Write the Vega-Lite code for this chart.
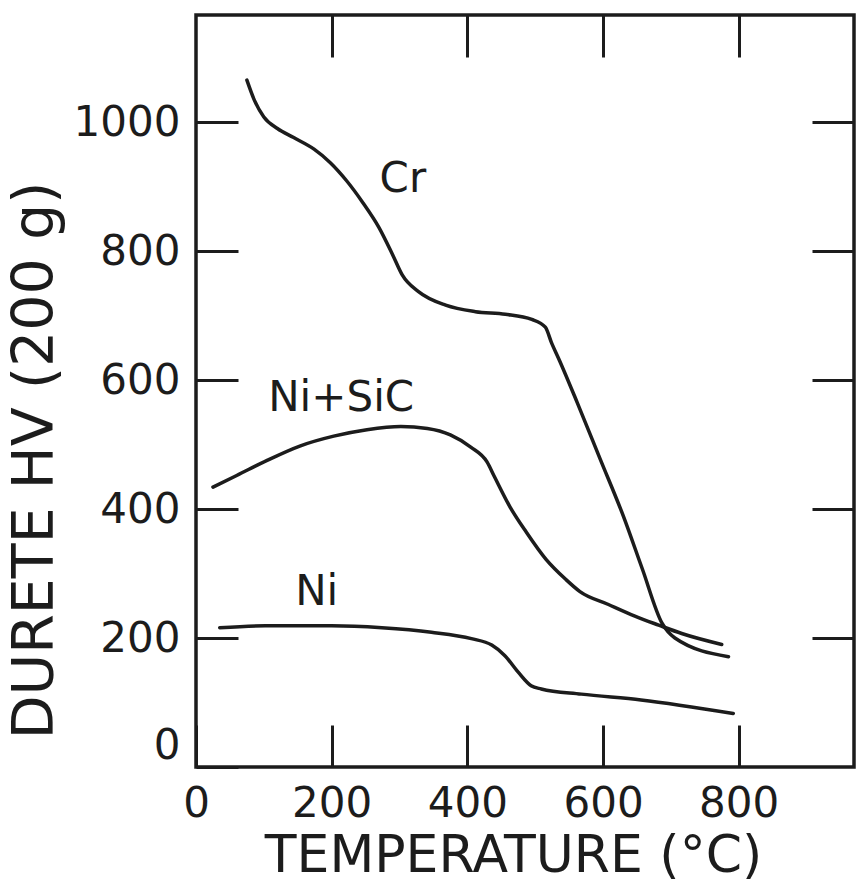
{
  "$schema": "https://vega.github.io/schema/vega-lite/v6.json",
  "autosize": {"type": "none"},
  "padding": {"left": 196, "top": 15, "right": 3, "bottom": 115},
  "width": 658,
  "height": 752,
  "background": "white",
  "datasets": {
    "curves": [
      {"series": "Cr", "t": 75, "hv": 1065},
      {"series": "Cr", "t": 86, "hv": 1034},
      {"series": "Cr", "t": 100, "hv": 1008},
      {"series": "Cr", "t": 120, "hv": 990},
      {"series": "Cr", "t": 144, "hv": 976},
      {"series": "Cr", "t": 174, "hv": 958},
      {"series": "Cr", "t": 198, "hv": 937},
      {"series": "Cr", "t": 222, "hv": 909},
      {"series": "Cr", "t": 246, "hv": 875},
      {"series": "Cr", "t": 270, "hv": 836},
      {"series": "Cr", "t": 290, "hv": 794},
      {"series": "Cr", "t": 304, "hv": 763},
      {"series": "Cr", "t": 328, "hv": 737},
      {"series": "Cr", "t": 368, "hv": 716},
      {"series": "Cr", "t": 412, "hv": 706},
      {"series": "Cr", "t": 456, "hv": 702},
      {"series": "Cr", "t": 495, "hv": 694},
      {"series": "Cr", "t": 515, "hv": 682},
      {"series": "Cr", "t": 524, "hv": 658},
      {"series": "Cr", "t": 536, "hv": 630},
      {"series": "Cr", "t": 562, "hv": 565},
      {"series": "Cr", "t": 596, "hv": 477},
      {"series": "Cr", "t": 630, "hv": 389},
      {"series": "Cr", "t": 658, "hv": 307},
      {"series": "Cr", "t": 687, "hv": 223},
      {"series": "Cr", "t": 706, "hv": 200},
      {"series": "Cr", "t": 785, "hv": 171},
      {"series": "Ni+SiC", "t": 25, "hv": 434},
      {"series": "Ni+SiC", "t": 60, "hv": 452},
      {"series": "Ni+SiC", "t": 104, "hv": 475},
      {"series": "Ni+SiC", "t": 154, "hv": 498},
      {"series": "Ni+SiC", "t": 203, "hv": 513},
      {"series": "Ni+SiC", "t": 252, "hv": 523},
      {"series": "Ni+SiC", "t": 302, "hv": 528},
      {"series": "Ni+SiC", "t": 341, "hv": 525},
      {"series": "Ni+SiC", "t": 375, "hv": 515},
      {"series": "Ni+SiC", "t": 405, "hv": 496},
      {"series": "Ni+SiC", "t": 429, "hv": 473},
      {"series": "Ni+SiC", "t": 440, "hv": 450},
      {"series": "Ni+SiC", "t": 463, "hv": 403},
      {"series": "Ni+SiC", "t": 487, "hv": 364},
      {"series": "Ni+SiC", "t": 516, "hv": 322},
      {"series": "Ni+SiC", "t": 545, "hv": 291},
      {"series": "Ni+SiC", "t": 566, "hv": 272},
      {"series": "Ni+SiC", "t": 608, "hv": 252},
      {"series": "Ni+SiC", "t": 647, "hv": 234},
      {"series": "Ni+SiC", "t": 682, "hv": 220},
      {"series": "Ni+SiC", "t": 716, "hv": 207},
      {"series": "Ni+SiC", "t": 775, "hv": 190},
      {"series": "Ni", "t": 35, "hv": 216},
      {"series": "Ni", "t": 102, "hv": 219},
      {"series": "Ni", "t": 200, "hv": 219},
      {"series": "Ni", "t": 274, "hv": 216},
      {"series": "Ni", "t": 347, "hv": 209},
      {"series": "Ni", "t": 406, "hv": 199},
      {"series": "Ni", "t": 436, "hv": 189},
      {"series": "Ni", "t": 455, "hv": 173},
      {"series": "Ni", "t": 475, "hv": 147},
      {"series": "Ni", "t": 494, "hv": 126},
      {"series": "Ni", "t": 509, "hv": 121},
      {"series": "Ni", "t": 568, "hv": 113},
      {"series": "Ni", "t": 656, "hv": 104},
      {"series": "Ni", "t": 792, "hv": 83}
    ],
    "names": [
      {"name": "Cr", "t": 305, "hv": 912},
      {"name": "Ni+SiC", "t": 214, "hv": 572},
      {"name": "Ni", "t": 178, "hv": 272}
    ]
  },
  "layer": [
    {
      "data": {"name": "curves"},
      "mark": {"type": "line", "interpolate": "monotone", "stroke": "#1c1c1c", "strokeWidth": 3.5, "strokeCap": "round"},
      "encoding": {
        "x": {
          "field": "t", "type": "quantitative",
          "scale": {"domain": [0, 970], "nice": false, "zero": false},
          "axis": {
            "orient": "bottom",
            "values": [0, 200, 400, 600, 800],
            "format": "d",
            "title": "TEMPERATURE (°C)",
            "titleX": 317, "titleY": 104,
            "titleAlign": "center", "titleBaseline": "alphabetic",
            "titleFontSize": 52,
            "labelFlush": false,
            "labelPadding": 58
          }
        },
        "y": {
          "field": "hv", "type": "quantitative",
          "scale": {"domain": [0, 1166], "nice": false, "zero": false},
          "axis": {
            "orient": "left",
            "values": [0, 200, 400, 600, 800, 1000],
            "format": "d",
            "title": "DURETE HV (200 g)",
            "titleX": -144, "titleY": 445,
            "titleAngle": -90,
            "titleAlign": "center", "titleBaseline": "alphabetic",
            "titleFontSize": 57,
            "labelFlush": true,
            "labelPadding": 58
          }
        },
        "detail": {"field": "series"}
      }
    },
    {
      "data": {"name": "names"},
      "mark": {"type": "text", "font": "DejaVu Sans", "fontSize": 42, "fill": "#1c1c1c", "align": "center", "baseline": "middle"},
      "encoding": {
        "x": {
          "field": "t", "type": "quantitative",
          "scale": {"domain": [0, 970], "nice": false, "zero": false},
          "axis": {"orient": "top", "values": [200, 400, 600, 800], "labels": false, "title": null}
        },
        "y": {
          "field": "hv", "type": "quantitative",
          "scale": {"domain": [0, 1166], "nice": false, "zero": false},
          "axis": {"orient": "right", "values": [200, 400, 600, 800, 1000], "labels": false, "title": null}
        },
        "text": {"field": "name"}
      }
    }
  ],
  "resolve": {"axis": {"x": "independent", "y": "independent"}},
  "config": {
    "view": {"stroke": "#1c1c1c", "strokeWidth": 3.5},
    "axis": {
      "grid": false,
      "domain": false,
      "ticks": true,
      "tickSize": -42,
      "tickWidth": 3,
      "tickColor": "#1c1c1c",
      "labelFont": "DejaVu Sans",
      "labelFontSize": 42,
      "labelColor": "#1c1c1c",
      "titleFont": "DejaVu Sans",
      "titleFontWeight": "normal",
      "titleColor": "#1c1c1c"
    }
  }
}
